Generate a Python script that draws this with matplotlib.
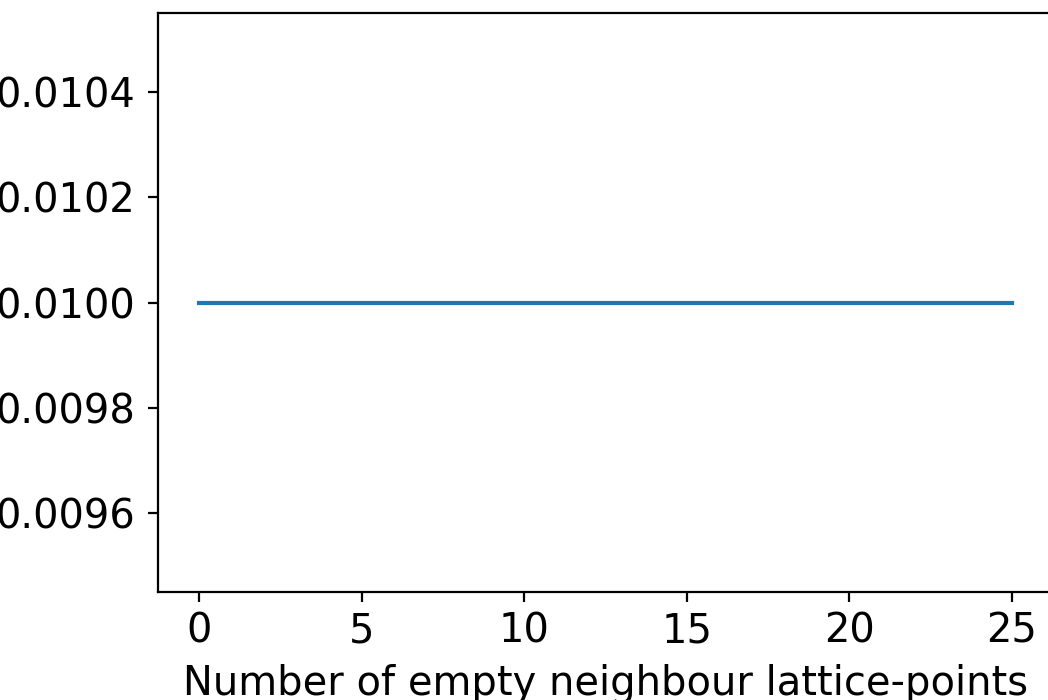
import matplotlib
matplotlib.use("Agg")
import matplotlib.pyplot as plt

x_values = [0, 25]
y_values = [0.01, 0.01]
x_ticks = [0, 5, 10, 15, 20, 25]
y_ticks = [0.0096, 0.0098, 0.0100, 0.0102, 0.0104]
y_tick_labels = ['0.0096', '0.0098', '0.0100', '0.0102', '0.0104']

plt.rcParams['font.size'] = 14.4
fig = plt.figure(figsize=(5.24, 3.5), dpi=200)
ax = fig.add_axes([0.1512, 0.1543, 0.8532, 0.8271])
ax.plot(x_values, y_values, color='#1f77b4', linewidth=1.5)
ax.set_ylim(0.00945, 0.01055)
ax.set_xlim(-1.25, 26.25)
ax.set_yticks(y_ticks)
ax.set_yticklabels(y_tick_labels)
ax.set_xticks(x_ticks)
ax.tick_params(axis='y', pad=4.8)
ax.set_xlabel('Number of empty neighbour lattice-points', labelpad=4.5)
fig.savefig('out.png', dpi=200)
